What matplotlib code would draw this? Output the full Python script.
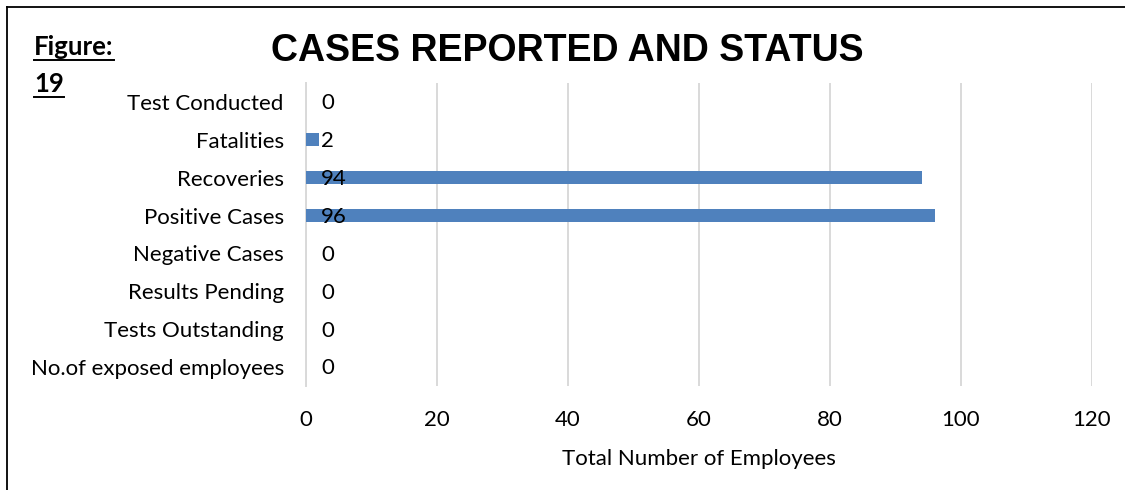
import matplotlib
matplotlib.use("Agg")
import matplotlib.pyplot as plt
from matplotlib.lines import Line2D

categories = [
    "No.of exposed employees",
    "Tests Outstanding",
    "Results Pending",
    "Negative Cases",
    "Positive Cases",
    "Recoveries",
    "Fatalities",
    "Test Conducted",
]
values = [0, 0, 0, 0, 96, 94, 2, 0]
x_ticks = [0, 20, 40, 60, 80, 100, 120]

body_font = ["Lato", "DejaVu Sans"]
bar_color = "#4F81BD"
grid_color = "#D9D9D9"

fig = plt.figure(figsize=(11.25, 4.9), dpi=100)
ax = fig.add_axes([306 / 1125, 1 - 386 / 490, (1092 - 306) / 1125, (386 - 83) / 490])

ypos = list(range(len(categories)))
ax.barh(ypos, values, height=0.34, color=bar_color, linewidth=0, zorder=3)

for y, v in zip(ypos, values):
    ax.annotate(str(v), xy=(0, y), xytext=(11, -1), textcoords="offset points",
                ha="left", va="center", fontsize=16, family=body_font, color="black", zorder=4)

ax.set_xlim(0, 120)
ax.set_ylim(-0.5, len(categories) - 0.5)
ax.set_xticks(x_ticks)
ax.set_xticklabels([str(t) for t in x_ticks], family=body_font, fontsize=16)
ax.set_yticks(ypos)
ax.set_yticklabels(categories, family=body_font, fontsize=16)
ax.tick_params(axis="both", length=0)
ax.tick_params(axis="y", pad=16)
ax.tick_params(axis="x", pad=17)
ax.grid(axis="x", color=grid_color, linewidth=1.4, zorder=0)
ax.axvline(0, color=grid_color, linewidth=1.4, zorder=1, clip_on=False)
ax.set_axisbelow(True)
for s in ax.spines.values():
    s.set_visible(False)

ax.set_xlabel("Total Number of Employees", family=body_font, fontsize=16, labelpad=14)

fig.text(567 / 1125, 1 - 51 / 490, "CASES REPORTED AND STATUS", ha="center", va="center",
         fontsize=27, fontweight="bold", family=["Liberation Sans", "DejaVu Sans"])

# "Figure: 19" label, bold and underlined
fig.canvas.draw()
renderer = fig.canvas.get_renderer()
for txt, ytop in [("Figure:", 35), ("19", 72)]:
    t = fig.text(34 / 1125, 1 - ytop / 490, txt, ha="left", va="top", fontsize=18.5,
                 fontweight="bold", family=body_font)
    bb = t.get_window_extent(renderer=renderer)
    yline = (bb.y0 - 1) / fig.bbox.height
    fig.add_artist(Line2D([bb.x0 / fig.bbox.width, bb.x1 / fig.bbox.width], [yline, yline],
                          color="black", linewidth=1.4, transform=fig.transFigure))

# frame around the figure (only top and left are visible in the crop)
fig.add_artist(Line2D([7 / 1125, 1.0], [1 - 7.5 / 490, 1 - 7.5 / 490], color="black",
                      linewidth=1.3, transform=fig.transFigure))
fig.add_artist(Line2D([7 / 1125, 7 / 1125], [0.0, 1 - 7.5 / 490], color="black",
                      linewidth=1.3, transform=fig.transFigure))

fig.savefig("out.png", dpi=100)
